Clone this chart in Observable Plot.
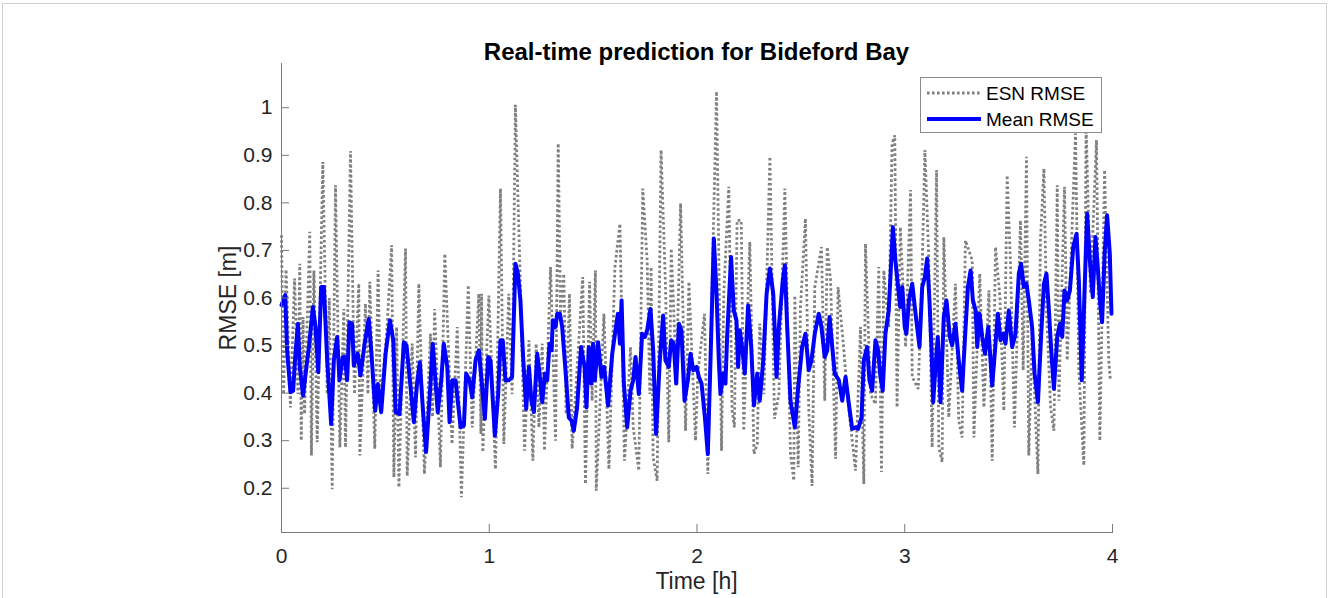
<!DOCTYPE html>
<html>
<head>
<meta charset="utf-8">
<script src="https://cdn.jsdelivr.net/npm/d3@7"></script>
<script src="https://cdn.jsdelivr.net/npm/@observablehq/plot@0.6"></script>
<style>
  html, body { margin: 0; padding: 0; background: #fff; }
  #wrap { position: relative; width: 1330px; height: 598px; overflow: hidden; background: #fff;
          font-family: "Liberation Sans", Arial, Helvetica, sans-serif; }
  #border { position: absolute; left: 2px; top: 3px; width: 1323px; height: 640px; border: 1px solid #cfcfcf; }
  #chart { position: absolute; left: 0; top: 0; }
  .title { position: absolute; left: 0; width: 1393px; text-align: center; top: 40px; font-size: 24px; font-weight: bold; line-height: 1; color: #000; }
  .xlabel { position: absolute; left: 0; width: 1393px; text-align: center; top: 574px; font-size: 23px; line-height: 14px; color: #262626; }
  .ylabel { position: absolute; left: 228px; top: 298px; transform: translate(-50%, -50%) rotate(-90deg); font-size: 23px; line-height: 1; white-space: nowrap; color: #262626; }
  #legend { position: absolute; left: 920px; top: 77px; }
</style>
</head>
<body>
<div id="wrap">
  <div id="border"></div>
  <div id="chart"></div>
  <div class="title">Real-time prediction for Bideford Bay</div>
  <div class="xlabel">Time [h]</div>
  <div class="ylabel">RMSE [m]</div>
  <svg id="legend" width="183" height="57"></svg>
</div>
<script>
// ---- Data (time in hours, RMSE in metres) ----
const xTicks = [0, 1, 2, 3, 4];
const xTickLabels = ["0", "1", "2", "3", "4"];
const yTicks = [0.2, 0.3, 0.4, 0.5, 0.6, 0.7, 0.8, 0.9, 1.0];
const yTickLabels = ["0.2", "0.3", "0.4", "0.5", "0.6", "0.7", "0.8", "0.9", "1"];
const seriesNames = ["ESN RMSE", "Mean RMSE"];

const esnRmse = [[0,0.732],[0.010,0.398],[0.022,0.660],[0.043,0.370],[0.063,0.641],[0.079,0.398],[0.088,0.672],[0.095,0.300],[0.104,0.560],[0.111,0.356],[0.136,0.739],[0.144,0.269],[0.156,0.658],[0.172,0.297],[0.199,0.886],[0.220,0.398],[0.230,0.600],[0.244,0.198],[0.260,0.837],[0.281,0.286],[0.300,0.577],[0.308,0.286],[0.332,0.909],[0.351,0.398],[0.372,0.630],[0.377,0.269],[0.404,0.588],[0.416,0.398],[0.425,0.634],[0.449,0.283],[0.465,0.658],[0.477,0.370],[0.509,0.546],[0.530,0.711],[0.541,0.223],[0.554,0.539],[0.565,0.202],[0.597,0.704],[0.605,0.226],[0.629,0.504],[0.645,0.265],[0.661,0.630],[0.688,0.230],[0.717,0.525],[0.727,0.350],[0.737,0.577],[0.765,0.244],[0.786,0.693],[0.821,0.293],[0.846,0.539],[0.866,0.181],[0.899,0.627],[0.918,0.328],[0.950,0.609],[0.960,0.314],[0.963,0.609],[0.969,0.276],[0.998,0.605],[1.030,0.240],[1.054,0.830],[1.070,0.293],[1.094,0.609],[1.110,0.398],[1.126,1.006],[1.150,0.623],[1.170,0.279],[1.191,0.511],[1.210,0.258],[1.226,0.504],[1.239,0.328],[1.255,0.504],[1.266,0.279],[1.295,0.665],[1.319,0.300],[1.332,0.925],[1.343,0.567],[1.359,0.651],[1.370,0.356],[1.386,0.609],[1.399,0.283],[1.450,0.644],[1.463,0.209],[1.483,0.634],[1.495,0.384],[1.511,0.658],[1.515,0.195],[1.552,0.567],[1.576,0.240],[1.605,0.665],[1.629,0.756],[1.651,0.258],[1.680,0.497],[1.693,0.328],[1.720,0.237],[1.739,0.830],[1.760,0.679],[1.773,0.398],[1.779,0.665],[1.789,0.265],[1.808,0.216],[1.827,0.911],[1.848,0.630],[1.864,0.297],[1.876,0.704],[1.901,0.427],[1.921,0.799],[1.945,0.321],[1.961,0.634],[1.993,0.300],[2.004,0.441],[2.036,0.567],[2.052,0.230],[2.094,1.034],[2.118,0.279],[2.129,0.609],[2.153,0.834],[2.169,0.363],[2.180,0.328],[2.193,0.763],[2.213,0.763],[2.225,0.321],[2.254,0.718],[2.274,0.272],[2.290,0.293],[2.302,0.546],[2.322,0.398],[2.351,0.897],[2.373,0.346],[2.394,0.398],[2.423,0.830],[2.450,0.272],[2.466,0.216],[2.471,0.605],[2.487,0.244],[2.498,0.581],[2.522,0.767],[2.538,0.363],[2.554,0.205],[2.567,0.623],[2.599,0.707],[2.615,0.384],[2.627,0.707],[2.643,0.637],[2.667,0.262],[2.679,0.623],[2.707,0.490],[2.723,0.398],[2.747,0.300],[2.763,0.237],[2.787,0.539],[2.803,0.209],[2.811,0.714],[2.835,0.398],[2.859,0.377],[2.875,0.665],[2.888,0.234],[2.899,0.658],[2.923,0.539],[2.939,0.925],[2.952,0.942],[2.963,0.370],[2.979,0.749],[3.004,0.497],[3.028,0.827],[3.036,0.434],[3.065,0.409],[3.084,0.665],[3.097,0.911],[3.116,0.679],[3.132,0.286],[3.153,0.869],[3.164,0.286],[3.180,0.255],[3.188,0.728],[3.212,0.349],[3.244,0.630],[3.260,0.342],[3.276,0.307],[3.292,0.721],[3.325,0.679],[3.333,0.307],[3.361,0.651],[3.381,0.370],[3.405,0.616],[3.421,0.258],[3.437,0.707],[3.458,0.602],[3.477,0.363],[3.493,0.858],[3.509,0.672],[3.528,0.328],[3.557,0.763],[3.570,0.448],[3.586,0.897],[3.597,0.269],[3.613,0.525],[3.641,0.230],[3.653,0.721],[3.670,0.872],[3.682,0.574],[3.702,0.370],[3.718,0.321],[3.734,0.837],[3.742,0.384],[3.769,0.834],[3.782,0.469],[3.806,0.756],[3.822,0.946],[3.838,0.448],[3.862,0.248],[3.873,0.960],[3.894,0.609],[3.923,0.932],[3.939,0.300],[3.962,0.869],[3.982,0.469],[3.990,0.427]];

const meanRmse = [[0,0.585],[0.018,0.606],[0.027,0.490],[0.043,0.402],[0.056,0.405],[0.067,0.483],[0.079,0.546],[0.088,0.455],[0.104,0.395],[0.120,0.455],[0.132,0.497],[0.151,0.581],[0.164,0.539],[0.177,0.444],[0.191,0.623],[0.204,0.623],[0.220,0.469],[0.239,0.335],[0.252,0.469],[0.268,0.518],[0.279,0.427],[0.295,0.476],[0.305,0.476],[0.316,0.427],[0.327,0.549],[0.340,0.546],[0.348,0.458],[0.367,0.483],[0.380,0.437],[0.400,0.504],[0.420,0.556],[0.433,0.483],[0.451,0.363],[0.464,0.419],[0.480,0.360],[0.501,0.483],[0.522,0.553],[0.538,0.511],[0.549,0.360],[0.568,0.356],[0.589,0.507],[0.602,0.500],[0.618,0.427],[0.637,0.339],[0.653,0.423],[0.666,0.465],[0.680,0.370],[0.696,0.276],[0.714,0.398],[0.728,0.504],[0.741,0.427],[0.752,0.360],[0.769,0.427],[0.781,0.504],[0.798,0.455],[0.809,0.339],[0.822,0.427],[0.838,0.427],[0.862,0.328],[0.878,0.332],[0.889,0.441],[0.905,0.427],[0.918,0.391],[0.934,0.469],[0.950,0.490],[0.963,0.427],[0.979,0.346],[0.995,0.476],[1.006,0.469],[1.027,0.311],[1.043,0.398],[1.054,0.511],[1.065,0.511],[1.078,0.427],[1.094,0.427],[1.110,0.434],[1.126,0.672],[1.138,0.651],[1.150,0.595],[1.163,0.476],[1.178,0.367],[1.191,0.455],[1.203,0.384],[1.215,0.360],[1.231,0.483],[1.242,0.441],[1.255,0.381],[1.268,0.441],[1.279,0.427],[1.290,0.504],[1.300,0.490],[1.306,0.553],[1.319,0.539],[1.327,0.567],[1.340,0.567],[1.351,0.539],[1.367,0.448],[1.383,0.349],[1.396,0.342],[1.407,0.321],[1.423,0.370],[1.442,0.497],[1.459,0.455],[1.468,0.370],[1.479,0.497],[1.491,0.420],[1.500,0.504],[1.508,0.427],[1.524,0.507],[1.540,0.434],[1.553,0.455],[1.572,0.374],[1.592,0.483],[1.604,0.521],[1.619,0.567],[1.629,0.504],[1.637,0.595],[1.648,0.420],[1.664,0.328],[1.680,0.405],[1.693,0.427],[1.704,0.476],[1.720,0.398],[1.736,0.525],[1.749,0.518],[1.760,0.532],[1.776,0.577],[1.789,0.490],[1.803,0.314],[1.821,0.469],[1.837,0.563],[1.848,0.469],[1.864,0.455],[1.876,0.511],[1.888,0.504],[1.900,0.420],[1.913,0.546],[1.925,0.532],[1.940,0.384],[1.956,0.427],[1.969,0.483],[1.982,0.448],[1.998,0.455],[2.009,0.434],[2.022,0.420],[2.038,0.349],[2.052,0.272],[2.065,0.469],[2.081,0.725],[2.094,0.609],[2.105,0.469],[2.113,0.398],[2.126,0.441],[2.137,0.420],[2.145,0.518],[2.164,0.686],[2.177,0.574],[2.190,0.553],[2.198,0.455],[2.206,0.532],[2.219,0.490],[2.230,0.441],[2.246,0.584],[2.261,0.497],[2.274,0.374],[2.290,0.441],[2.302,0.384],[2.319,0.469],[2.335,0.609],[2.351,0.662],[2.367,0.609],[2.383,0.434],[2.394,0.539],[2.413,0.637],[2.423,0.669],[2.434,0.539],[2.450,0.384],[2.471,0.328],[2.487,0.412],[2.506,0.497],[2.522,0.525],[2.538,0.448],[2.551,0.469],[2.567,0.525],[2.586,0.567],[2.599,0.539],[2.615,0.476],[2.627,0.490],[2.638,0.560],[2.651,0.497],[2.663,0.441],[2.683,0.427],[2.699,0.384],[2.715,0.434],[2.731,0.377],[2.747,0.325],[2.763,0.328],[2.776,0.325],[2.792,0.349],[2.803,0.469],[2.819,0.497],[2.830,0.427],[2.843,0.405],[2.859,0.511],[2.872,0.490],[2.883,0.434],[2.894,0.405],[2.907,0.525],[2.923,0.574],[2.943,0.749],[2.955,0.679],[2.968,0.623],[2.978,0.581],[2.988,0.623],[3.000,0.539],[3.008,0.525],[3.020,0.595],[3.036,0.630],[3.052,0.567],[3.071,0.497],[3.084,0.623],[3.097,0.644],[3.108,0.683],[3.119,0.595],[3.129,0.490],[3.137,0.381],[3.148,0.455],[3.159,0.518],[3.172,0.381],[3.188,0.560],[3.201,0.595],[3.217,0.518],[3.228,0.500],[3.244,0.546],[3.260,0.469],[3.276,0.405],[3.292,0.532],[3.304,0.623],[3.317,0.658],[3.328,0.595],[3.341,0.574],[3.349,0.497],[3.360,0.567],[3.373,0.518],[3.386,0.483],[3.402,0.539],[3.421,0.416],[3.437,0.504],[3.448,0.567],[3.461,0.511],[3.474,0.525],[3.485,0.504],[3.501,0.574],[3.517,0.497],[3.533,0.525],[3.549,0.651],[3.560,0.672],[3.573,0.623],[3.586,0.630],[3.597,0.595],[3.613,0.539],[3.625,0.441],[3.641,0.381],[3.657,0.525],[3.670,0.630],[3.682,0.651],[3.694,0.574],[3.705,0.490],[3.718,0.409],[3.734,0.518],[3.747,0.546],[3.758,0.518],[3.769,0.616],[3.782,0.595],[3.795,0.616],[3.811,0.707],[3.827,0.735],[3.838,0.637],[3.852,0.427],[3.865,0.609],[3.878,0.777],[3.891,0.679],[3.905,0.602],[3.918,0.728],[3.929,0.665],[3.942,0.581],[3.950,0.549],[3.962,0.693],[3.974,0.774],[3.987,0.693],[3.995,0.567]];

// ---- Build tables ----
const esnData = esnRmse.map(([t, v]) => ({t, v}));
const meanData = meanRmse.map(([t, v]) => ({t, v}));

const axisColor = "#7a7a7a";
const textColor = "#262626";

const chart = Plot.plot({
  width: 1330,
  height: 598,
  marginLeft: 281,
  marginRight: 218,
  marginTop: 63,
  marginBottom: 66,
  style: {background: "transparent", fontFamily: "'Liberation Sans', Arial, Helvetica, sans-serif"},
  x: {domain: [0, 4]},
  y: {domain: [0.107, 1.093]},
  marks: [
    Plot.line(esnData, {x: "t", y: "v", stroke: "#808080", strokeWidth: 2.8, strokeDasharray: "2.6,2.4", strokeLinejoin: "miter", strokeLinecap: "butt"}),
    Plot.line(meanData, {x: "t", y: "v", stroke: "#0000ff", strokeWidth: 4, strokeLinejoin: "round"}),
    Plot.frame({anchor: "bottom", stroke: axisColor}),
    Plot.frame({anchor: "left", stroke: axisColor}),
    // inward tick marks
    Plot.axisX({ticks: xTicks, tickSize: 8, dy: -8, fill: "none", stroke: axisColor, label: null}),
    Plot.axisY({ticks: yTicks, tickSize: 8, dx: 8, fill: "none", stroke: axisColor, label: null}),
    // tick labels
    Plot.axisX({ticks: xTicks, tickSize: 0, tickPadding: 16, fontSize: 21, fill: textColor, label: null,
                tickFormat: d => xTickLabels[xTicks.indexOf(d)]}),
    Plot.axisY({ticks: yTicks, tickSize: 0, tickPadding: 9, fontSize: 21, fill: textColor, label: null,
                tickFormat: d => yTickLabels[yTicks.findIndex(v => Math.abs(v - d) < 1e-9)]})
  ]
});
document.getElementById("chart").appendChild(chart);

// ---- Legend ----
const lg = d3.select("#legend");
lg.append("rect").attr("x", 0.5).attr("y", 0.5).attr("width", 181).attr("height", 55)
  .attr("fill", "#fff").attr("stroke", "#8a8a8a").attr("stroke-width", 1);
const legendItems = [
  {name: seriesNames[0], stroke: "#808080", width: 2.8, dash: "2.6,2.4", y: 16},
  {name: seriesNames[1], stroke: "#0000ff", width: 4, dash: null, y: 42}
];
legendItems.forEach(it => {
  lg.append("line").attr("x1", 7).attr("x2", 61).attr("y1", it.y).attr("y2", it.y)
    .attr("stroke", it.stroke).attr("stroke-width", it.width).attr("stroke-dasharray", it.dash);
  lg.append("text").attr("x", 66).attr("y", it.y).attr("dy", "0.35em")
    .attr("font-size", 19).attr("fill", "#000")
    .attr("font-family", "'Liberation Sans', Arial, Helvetica, sans-serif")
    .text(it.name);
});
</script>
</body>
</html>
